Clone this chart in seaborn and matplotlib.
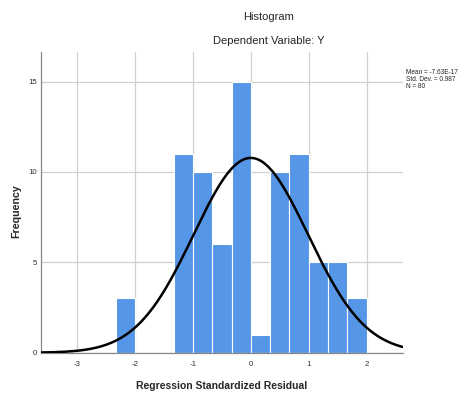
import numpy as np
import pandas as pd
import matplotlib
matplotlib.use("Agg")
import matplotlib.pyplot as plt
import seaborn as sns

# Data
bin_edges = [-7/3, -2, -5/3, -4/3, -1, -2/3, -1/3, 0, 1/3, 2/3, 1, 4/3, 5/3, 2]
counts = [3, 0, 0, 11, 10, 6, 15, 1, 10, 11, 5, 5, 3]
mean_val = -7.63e-17
std_val = 0.987
n_val = 80
x_ticks = [-3, -2, -1, 0, 1, 2]
y_ticks = [0, 5, 10, 15]

sns.set_theme(style="white")
plt.rcParams['font.family'] = ['Liberation Sans', 'DejaVu Sans']

fig = plt.figure(figsize=(4.6, 3.94), dpi=100)
ax = fig.add_axes([41/460, 1-352.7/394, (402.7-41)/460, (352.7-52)/394])

centers = [(bin_edges[i] + bin_edges[i+1]) / 2 for i in range(len(counts))]
df = pd.DataFrame({"x": centers, "w": counts})
sns.histplot(data=df, x="x", weights="w", bins=bin_edges, ax=ax,
             color="#5596e6", alpha=1, edgecolor="white", linewidth=0.8, zorder=2)

# normal curve fitted from mean, sd, N
bw = bin_edges[1] - bin_edges[0]
xs = np.linspace(-3.62, 2.62, 400)
ys = n_val * bw * np.exp(-0.5 * ((xs - mean_val) / std_val) ** 2) / (std_val * np.sqrt(2 * np.pi))
sns.lineplot(x=xs, y=ys, ax=ax, color="black", linewidth=1.8, zorder=3)

ax.set_xlim(-3.62, 2.62)
ax.set_ylim(0, 16.64)
ax.set_xticks(x_ticks)
ax.set_yticks(y_ticks)
ax.set_xticklabels([str(t) for t in x_ticks], fontsize=5.7, color="#333333")
ax.set_yticklabels([str(t) for t in y_ticks], fontsize=5.7, color="#333333")
ax.tick_params(axis="both", length=0, pad=6)
ax.tick_params(axis="y", pad=3)
ax.grid(True, color="#d0d0d0", linewidth=0.9, zorder=0)
ax.set_axisbelow(True)
for s in ["top", "right"]:
    ax.spines[s].set_visible(False)
ax.spines["left"].set_color("#888888")
ax.spines["bottom"].set_color("#888888")
ax.spines["left"].set_linewidth(0.9)
ax.spines["bottom"].set_linewidth(0.9)

ax.set_xlabel("Regression Standardized Residual", fontsize=7.5, fontweight="bold")
ax.xaxis.label.set_va("center")
ax.xaxis.set_label_coords(0.5, (352.7-386)/300.7)
ax.set_ylabel("Frequency", fontsize=7.7, fontweight="bold")
ax.yaxis.label.set_va("center")
ax.yaxis.set_label_coords((16.5-41)/361.7, (352.7-211)/300.7)

fig.text(269/460, 1-17/394, "Histogram", ha="center", va="center", fontsize=8.0)
fig.text(269/460, 1-41/394, "Dependent Variable: Y", ha="center", va="center", fontsize=8.0)

fig.text(406/460, 1-73/394, "Mean = -7.63E-17", ha="left", va="center", fontsize=4.7)
fig.text(406/460, 1-79.5/394, "Std. Dev. = 0.987", ha="left", va="center", fontsize=4.7)
fig.text(406/460, 1-86/394, f"N = {n_val}", ha="left", va="center", fontsize=4.7)

fig.savefig("out.png", dpi=100)
